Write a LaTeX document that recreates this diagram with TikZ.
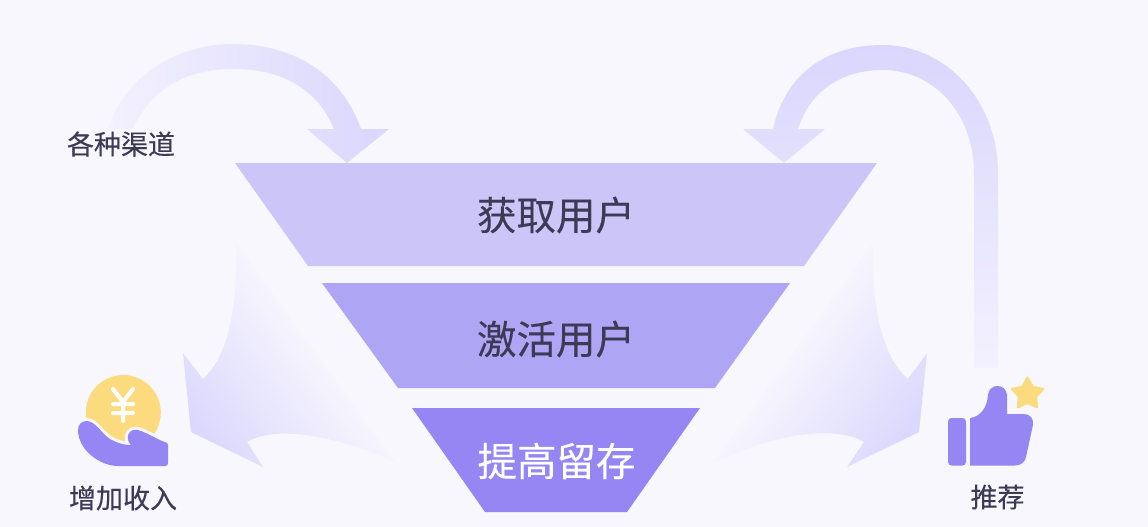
\documentclass[tikz,border=0pt]{standalone}
\usepackage{fontspec}
\setmainfont{Noto Sans CJK SC}[FakeBold=0.25]
\definecolor{bgc}{HTML}{F8F7FD}
\definecolor{fa}{HTML}{CCC5F8}
\definecolor{fb}{HTML}{AFA5F5}
\definecolor{fc}{HTML}{9586F4}
\definecolor{ink}{HTML}{3D3A56}
\definecolor{gold}{HTML}{FBDB7D}
\definecolor{arrowc}{HTML}{DAD6FD}
\definecolor{fadec}{HTML}{F3F1FE}
\tikzset{
 big/.style={font=\fontsize{39.5}{40}\selectfont,text=ink,inner sep=0pt},
 small/.style={font=\fontsize{27}{27}\selectfont,text=ink,inner sep=0pt},
}
\begin{document}
\begin{tikzpicture}[x=1pt,y=-1pt]
\useasboundingbox (0,0) rectangle (1148,527);
\fill[bgc] (0,0) rectangle (1148,527);
% top left arrow
\shade[left color=fadec,right color=arrowc] (108,129) .. controls (125,75) and (178,44) .. (233,44) .. controls (295,44) and (342,75) .. (361,129) -- (389,129) -- (347,163) -- (307,129) -- (334,129) .. controls (318,90) and (283,69) .. (233,69) .. controls (185,69) and (150,90) .. (133,129) -- cycle;
% top right arrow
\shade[top color=arrowc,bottom color=fadec] (974,368) -- (974,173) .. controls (974,115) and (935,70) .. (883,70) .. controls (843,70) and (810,90) .. (798,129) -- (825,129) -- (784,163) -- (743,129) -- (773,129) .. controls (785,75) and (825,45) .. (883,45) .. controls (945,45) and (998,100) .. (998,173) -- (998,368) -- cycle;
% fans
\begin{scope}
\clip (236,243) .. controls (238,300) and (230,355) .. (203,379) -- (183,353) -- (191,432) -- (263,467) -- (247,442) .. controls (275,425) and (335,435) .. (395,462) -- cycle;
\shade[left color=arrowc,right color=bgc,transform canvas={shift={(255.6,396)},rotate=36}] (-74,-260) rectangle (84,260);
\end{scope}
\begin{scope}
\clip (873,243) .. controls (871,300) and (880,355) .. (908,379) -- (927,353) -- (919,432) -- (847,467) -- (864,442) .. controls (835,425) and (775,433) .. (713,463) -- cycle;
\shade[left color=bgc,right color=arrowc,transform canvas={shift={(853,396.5)},rotate=-36}] (-84,-260) rectangle (74,260);
\end{scope}
% funnel
\fill[fa] (235,163) -- (877,163) -- (804,266) -- (308,266) -- cycle;
\fill[fb] (322,283) -- (790,283) -- (715,388) -- (398,388) -- cycle;
\fill[fc] (412,408) -- (700,408) -- (627,512) -- (485,512) -- cycle;
\node[big] (n1) at (556,215) {获取用户};
\node[big] (n2) at (556,339) {激活用户};
\node[big,text=white] (n3) at (556.5,461) {提高留存};
\node[small] (l1) at (121,144) {各种渠道};
\node[small] (l2) at (123,498) {增加收入};
\node[small] (l3) at (997.5,497) {推荐};
% coin icon
\fill[gold] (123.3,412.5) circle (37.5);
\draw[white,line width=4pt,line cap=round,line join=round] (113,389) -- (123,402) -- (133,389) (123,402) -- (123,421) (113,404) -- (133,404) (113,413) -- (133,413);
\fill[fc,preaction={draw=bgc,line width=6pt}] (78,430) .. controls (78,424) and (82,421) .. (87,421) .. controls (96,422) and (100,432) .. (110,439) .. controls (115,442) and (123,445) .. (131,445) .. controls (124,438) and (129,428) .. (138,430) .. controls (148,433) and (158,440) .. (166,442.5) .. controls (167.5,443) and (168,444) .. (168,445.5) -- (168,463) .. controls (168,465) and (167,466) .. (165,466) -- (118,466) .. controls (100,466) and (78,450) .. (78,430) -- cycle;
% thumb icon
\fill[fc,rounded corners=3.5pt] (948,418) rectangle (966,465.5);
\fill[fc] (970,418) .. controls (980,417) and (987,408) .. (988,395) .. controls (989,383) and (1006,383) .. (1007,395) -- (1007,414) -- (1024,414) .. controls (1030,414) and (1034,419) .. (1033,425) -- (1026,457) .. controls (1025,462) and (1021,465.5) .. (1015,465.5) -- (970,465.5) -- cycle;
\fill[gold,draw=gold,line width=2pt,line join=round] (1027.5,377.5) -- (1032.8,386.7) -- (1043.2,388.9) -- (1036.1,396.8) -- (1037.2,407.3) -- (1027.5,403) -- (1017.8,407.3) -- (1018.9,396.8) -- (1011.8,388.9) -- (1022.2,386.7) -- cycle;
\end{tikzpicture}
\end{document}
